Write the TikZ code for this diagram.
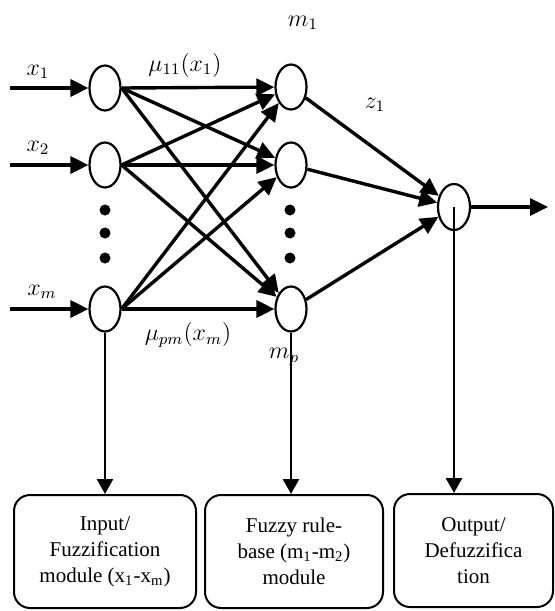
\documentclass[tikz,border=0pt]{standalone}
\usepackage{fontspec}
\setmainfont{Liberation Serif}
\usetikzlibrary{arrows.meta,shapes.geometric}

\begin{document}
\begin{tikzpicture}[x=0.5pt,y=-0.5pt,
  neuron/.style={draw, line width=1.1pt, ellipse, minimum width=15.5pt, minimum height=22.5pt, inner sep=0pt},
  dot/.style={circle, fill, inner sep=0pt, minimum size=5.5pt},
  link/.style={line width=1.7pt, -{Triangle[length=9pt,width=8.5pt]}},
  drop/.style={line width=1.3pt, -{Triangle[length=7.5pt,width=8pt]}},
  module/.style={draw, line width=1pt, rounded corners=8pt, align=center, minimum height=56.5pt, font=\fontsize{10.5}{13}\selectfont},
  lbl/.style={font=\large}]
  \useasboundingbox (0,0) rectangle (555,611);
  % input layer
  \node[neuron] (in1) at (105,88) {};
  \node[neuron] (in2) at (105,165) {};
  \node[neuron] (inm) at (105,309) {};
  \node[dot] (din1) at (105,210) {};
  \node[dot] (din2) at (105,233) {};
  \node[dot] (din3) at (105,258) {};
  \coordinate (src1) at (10,88);
  \coordinate (src2) at (10,165);
  \coordinate (srcm) at (10,309);
  \node[lbl] (lx1) at (38,72) {$x_1$};
  \node[lbl] (lx2) at (38,148) {$x_2$};
  \node[lbl] (lxm) at (42,292) {$x_m$};
  % rule layer
  \node[neuron] (hid1) at (291,87) {};
  \node[neuron] (hid2) at (291,165) {};
  \node[neuron] (hidp) at (291,309) {};
  \node[dot] (dh1) at (290,210) {};
  \node[dot] (dh2) at (290,233) {};
  \node[dot] (dh3) at (290,258) {};
  \node[lbl] (lm1) at (303,23) {$m_1$};
  \node[lbl] (lmp) at (284,357) {$m_p$};
  \node[lbl] (lmu1) at (185,65) {$\mu_{11}(x_1)$};
  \node[lbl] (lmup) at (188,335) {$\mu_{pm}(x_m)$};
  % output layer
  \node[neuron, minimum width=16pt, minimum height=23pt] (out) at (454,207) {};
  \coordinate (sink) at (548,207);
  \node[lbl] (lz1) at (375,105) {$z_1$};
  % modules
  \node[module, minimum width=91pt] (box1) at (105,551.5) {Input/\\Fuzzification\\module (x\textsubscript{1}-x\textsubscript{m})};
  \node[module, minimum width=89pt] (box2) at (294,551.5) {Fuzzy rule-\\base (m\textsubscript{1}-m\textsubscript{2})\\module};
  \node[module, minimum width=79.5pt] (box3) at (473.5,550.5) {Output/\\Defuzzifica\\tion};
  % connectors
  \draw[link] (src1) -- (in1);
  \draw[link] (src2) -- (in2);
  \draw[link] (srcm) -- (inm);
  \draw[link] (in1.east) -- (hid1);
  \draw[link] (in1.east) -- (hid2);
  \draw[link] (in1.east) -- (hidp);
  \draw[link] (in2.east) -- (hid1);
  \draw[link] (in2.east) -- (hid2);
  \draw[link] (in2.east) -- (hidp);
  \draw[link] (inm.east) -- (hid1);
  \draw[link] (inm.east) -- (hid2);
  \draw[link] (inm.east) -- (hidp);
  \draw[link] (hid1) -- (out);
  \draw[link] (hid2) -- (out);
  \draw[link] (hidp) -- (out);
  \draw[link] (out) -- (sink);
  \draw[drop] (inm.south) -- (inm.south |- box1.north);
  \draw[drop] (hidp.south) -- (hidp.south |- box2.north);
  \draw[drop] (out.center) -- (out.center |- box3.north);
\end{tikzpicture}
\end{document}
